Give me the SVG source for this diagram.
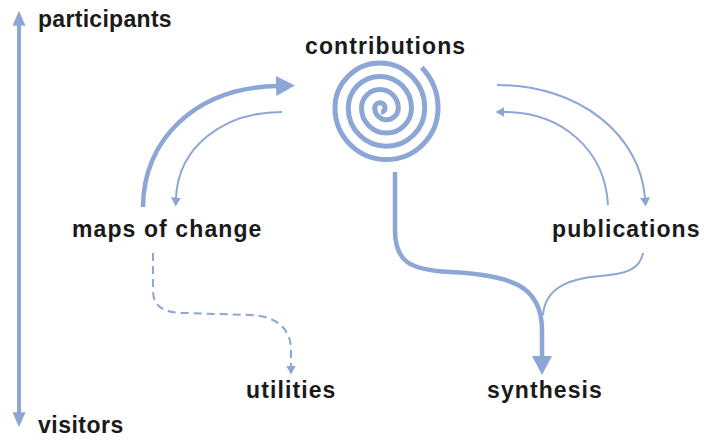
<svg xmlns="http://www.w3.org/2000/svg" width="712" height="444" viewBox="0 0 712 444">
<style>
.lbl{font-family:"Liberation Sans",Arial,sans-serif;font-weight:bold;font-size:23px;letter-spacing:1.1px;fill:#1a1a1a}
.ln{fill:none;stroke:#8ca7d5;stroke-linecap:butt}
.thin{stroke-width:2}
.thick{stroke-width:4.5}
.dash{stroke-dasharray:8 5}
</style>
<defs>
<marker id="ahThin" viewBox="0 0 10 10" refX="0.5" refY="5" markerWidth="9" markerHeight="10" markerUnits="userSpaceOnUse" orient="auto" preserveAspectRatio="none"><path d="M0,0 L10,5 L0,10 z" fill="#8ca7d5"/></marker>
<marker id="ahThick" viewBox="0 0 10 10" refX="0.5" refY="5" markerWidth="19" markerHeight="20" markerUnits="userSpaceOnUse" orient="auto" preserveAspectRatio="none"><path d="M0,0 L10,5 L0,10 z" fill="#8ca7d5"/></marker>
<marker id="ahAxis" viewBox="0 0 10 10" refX="0.5" refY="5" markerWidth="15" markerHeight="13" markerUnits="userSpaceOnUse" orient="auto-start-reverse" preserveAspectRatio="none"><path d="M0,0 L10,5 L0,10 z" fill="#8ca7d5"/></marker>
</defs>
<rect width="712" height="444" fill="#ffffff"/>

<g id="axis">
<path class="ln" d="M19 25 V413" stroke-width="4" marker-start="url(#ahAxis)" marker-end="url(#ahAxis)"/>
</g>
<g id="participants"><text class="lbl" x="38" y="27" style="letter-spacing:0.3px">participants</text></g>
<g id="visitors"><text class="lbl" x="38" y="433" style="letter-spacing:0.5px">visitors</text></g>

<g id="contributions">
<text class="lbl" x="305" y="54">contributions</text>
<path class="ln" stroke-width="5" d="M421.7 67.6 A58.15 58.15 0 0 1 438 108 A51.5 51.5 0 0 1 335 108 A44.85 44.85 0 0 1 424.75 108 A38.25 38.25 0 0 1 348.25 108 A31.6 31.6 0 0 1 411.5 108 A25 25 0 0 1 361.5 108 A18.4 18.4 0 0 1 398.3 108 A11.8 11.8 0 0 1 374.7 108 A5.2 5.2 0 0 1 385.1 108 A4 4 0 0 1 381 112"/>
</g>
<g id="maps-of-change"><text class="lbl" x="72" y="237">maps of change</text></g>
<g id="publications"><text class="lbl" x="552" y="237">publications</text></g>
<g id="utilities"><text class="lbl" x="246" y="398">utilities</text></g>
<g id="synthesis"><text class="lbl" x="487" y="398">synthesis</text></g>

<g id="connectors">
<path class="ln thick" d="M143 207 C143 140 195 88 277 86" marker-end="url(#ahThick)"/>
<path class="ln thin" d="M282 112 C222 112 178 148 176 198" marker-end="url(#ahThin)"/>
<path class="ln thin" d="M497 85 C580 85 640 135 645 198" marker-end="url(#ahThin)"/>
<path class="ln thin" d="M608 205 C605 150 562 112 504 112" marker-end="url(#ahThin)"/>
<path class="ln thick" d="M395 172 V230 C395 262 410 270 450 272 C510 275 542 285 542 330 V357" marker-end="url(#ahThick)"/>
<path class="ln thin" d="M643 253 C640 270 625 274 600 276 C565 279 545 290 543 315"/>
<path class="ln thin dash" d="M153 253 V290 C153 308 165 313 185 313 L250 315 C278 316 291 330 291 350 V366" marker-end="url(#ahThin)"/>
</g>
</svg>
